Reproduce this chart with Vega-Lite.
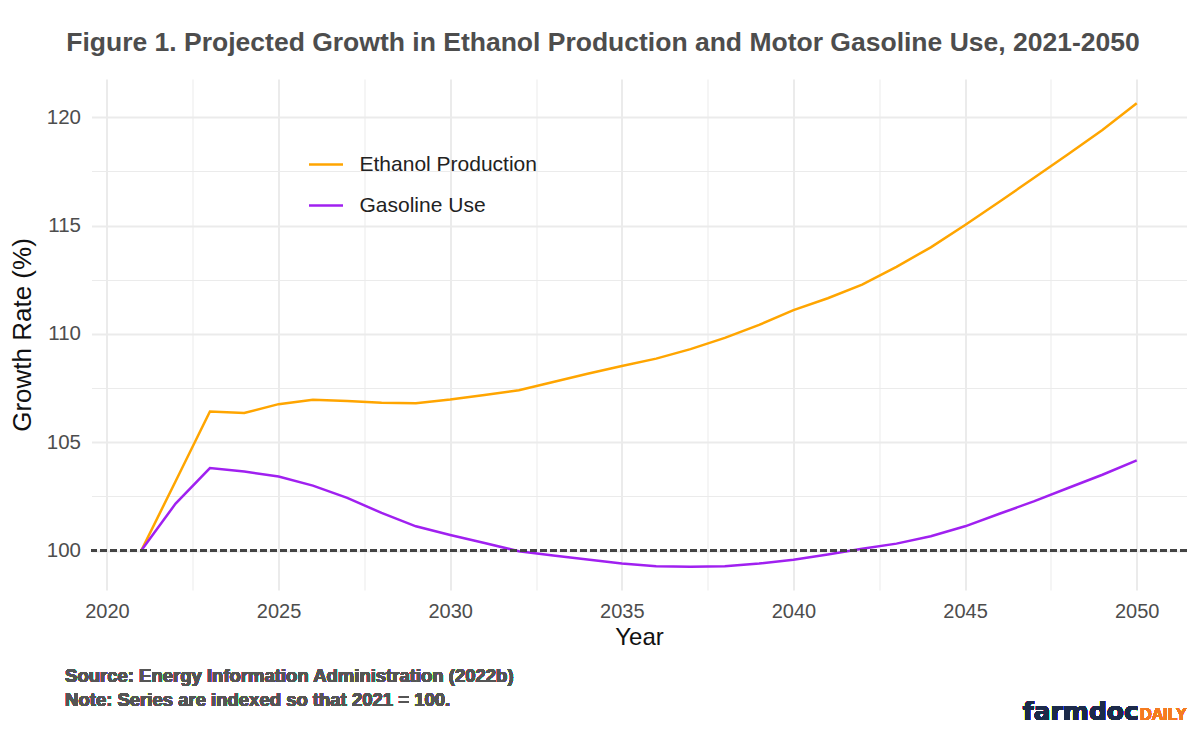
{
  "$schema": "https://vega.github.io/schema/vega-lite/v6.json",
  "width": 1095,
  "height": 511,
  "autosize": "none",
  "padding": {"left": 91.5, "top": 79, "right": 13.5, "bottom": 143},
  "background": "white",
  "config": {
    "font": "Liberation Sans",
    "view": {"stroke": null},
    "axis": {"domain": false, "ticks": false, "tickSize": 0, "gridColor": "#ebebeb", "grid": true}
  },
  "title": {
    "text": "Figure 1. Projected Growth in Ethanol Production and Motor Gasoline Use, 2021-2050",
    "fontSize": 26.5,
    "fontWeight": "bold",
    "color": "#4d4d4d",
    "anchor": "middle",
    "frame": "group",
    "dx": -36,
    "offset": 23
  },
  "data": {
    "values": [
      {"year": 2021, "series": "Ethanol Production", "value": 100},
      {"year": 2022, "series": "Ethanol Production", "value": 103.2},
      {"year": 2023, "series": "Ethanol Production", "value": 106.42},
      {"year": 2024, "series": "Ethanol Production", "value": 106.35},
      {"year": 2025, "series": "Ethanol Production", "value": 106.76},
      {"year": 2026, "series": "Ethanol Production", "value": 106.96},
      {"year": 2027, "series": "Ethanol Production", "value": 106.91},
      {"year": 2028, "series": "Ethanol Production", "value": 106.82},
      {"year": 2029, "series": "Ethanol Production", "value": 106.8},
      {"year": 2030, "series": "Ethanol Production", "value": 106.97},
      {"year": 2031, "series": "Ethanol Production", "value": 107.18},
      {"year": 2032, "series": "Ethanol Production", "value": 107.4},
      {"year": 2033, "series": "Ethanol Production", "value": 107.78},
      {"year": 2034, "series": "Ethanol Production", "value": 108.16},
      {"year": 2035, "series": "Ethanol Production", "value": 108.52},
      {"year": 2036, "series": "Ethanol Production", "value": 108.86},
      {"year": 2037, "series": "Ethanol Production", "value": 109.3},
      {"year": 2038, "series": "Ethanol Production", "value": 109.82},
      {"year": 2039, "series": "Ethanol Production", "value": 110.42},
      {"year": 2040, "series": "Ethanol Production", "value": 111.1},
      {"year": 2041, "series": "Ethanol Production", "value": 111.65},
      {"year": 2042, "series": "Ethanol Production", "value": 112.28},
      {"year": 2043, "series": "Ethanol Production", "value": 113.1},
      {"year": 2044, "series": "Ethanol Production", "value": 114.0},
      {"year": 2045, "series": "Ethanol Production", "value": 115.03},
      {"year": 2046, "series": "Ethanol Production", "value": 116.1},
      {"year": 2047, "series": "Ethanol Production", "value": 117.2},
      {"year": 2048, "series": "Ethanol Production", "value": 118.3},
      {"year": 2049, "series": "Ethanol Production", "value": 119.42},
      {"year": 2050, "series": "Ethanol Production", "value": 120.65},
      {"year": 2021, "series": "Gasoline Use", "value": 100},
      {"year": 2022, "series": "Gasoline Use", "value": 102.17},
      {"year": 2023, "series": "Gasoline Use", "value": 103.81},
      {"year": 2024, "series": "Gasoline Use", "value": 103.65},
      {"year": 2025, "series": "Gasoline Use", "value": 103.42},
      {"year": 2026, "series": "Gasoline Use", "value": 103.0},
      {"year": 2027, "series": "Gasoline Use", "value": 102.43},
      {"year": 2028, "series": "Gasoline Use", "value": 101.74},
      {"year": 2029, "series": "Gasoline Use", "value": 101.12},
      {"year": 2030, "series": "Gasoline Use", "value": 100.72},
      {"year": 2031, "series": "Gasoline Use", "value": 100.35},
      {"year": 2032, "series": "Gasoline Use", "value": 99.97},
      {"year": 2033, "series": "Gasoline Use", "value": 99.77},
      {"year": 2034, "series": "Gasoline Use", "value": 99.59},
      {"year": 2035, "series": "Gasoline Use", "value": 99.4},
      {"year": 2036, "series": "Gasoline Use", "value": 99.28},
      {"year": 2037, "series": "Gasoline Use", "value": 99.25},
      {"year": 2038, "series": "Gasoline Use", "value": 99.28},
      {"year": 2039, "series": "Gasoline Use", "value": 99.4},
      {"year": 2040, "series": "Gasoline Use", "value": 99.58},
      {"year": 2041, "series": "Gasoline Use", "value": 99.82},
      {"year": 2042, "series": "Gasoline Use", "value": 100.08},
      {"year": 2043, "series": "Gasoline Use", "value": 100.32},
      {"year": 2044, "series": "Gasoline Use", "value": 100.66},
      {"year": 2045, "series": "Gasoline Use", "value": 101.12},
      {"year": 2046, "series": "Gasoline Use", "value": 101.7},
      {"year": 2047, "series": "Gasoline Use", "value": 102.27},
      {"year": 2048, "series": "Gasoline Use", "value": 102.89},
      {"year": 2049, "series": "Gasoline Use", "value": 103.5},
      {"year": 2050, "series": "Gasoline Use", "value": 104.16}
    ]
  },
  "layer": [
    {
      "mark": {"type": "line", "strokeWidth": 2.5},
      "encoding": {
        "x": {
          "field": "year", "type": "quantitative",
          "scale": {"domain": [2019.55, 2051.45], "nice": false, "zero": false},
          "axis": {
            "title": "Year",
            "grid": true,
            "values": [2020, 2022.5, 2025, 2027.5, 2030, 2032.5, 2035, 2037.5, 2040, 2042.5, 2045, 2047.5, 2050],
            "labelExpr": "datum.value % 5 === 0 ? format(datum.value, 'd') : ''",
            "labelFontSize": 20,
            "labelColor": "#4d4d4d",
            "labelPadding": 11,
            "titleFontSize": 24,
            "titleFontWeight": "normal",
            "titleColor": "#111111",
            "titlePadding": 4,
            "gridWidth": {"condition": {"test": "datum.value % 5 !== 0", "value": 1}, "value": 2}
          }
        },
        "y": {
          "field": "value", "type": "quantitative",
          "scale": {"domain": [98.18, 121.77], "nice": false, "zero": false},
          "axis": {
            "title": "Growth Rate (%)",
            "grid": true,
            "values": [100, 102.5, 105, 107.5, 110, 112.5, 115, 117.5, 120],
            "labelExpr": "datum.value % 5 === 0 ? format(datum.value, 'd') : ''",
            "labelFontSize": 20.5,
            "labelColor": "#4d4d4d",
            "labelPadding": 11,
            "titleFontSize": 26,
            "titleFontWeight": "normal",
            "titleColor": "#111111",
            "titlePadding": 11,
            "gridWidth": {"condition": {"test": "datum.value % 5 !== 0", "value": 1}, "value": 2}
          }
        },
        "color": {
          "field": "series", "type": "nominal",
          "scale": {"domain": ["Ethanol Production", "Gasoline Use"], "range": ["#FFA500", "#A020F0"]},
          "legend": {
            "title": null,
            "orient": "none",
            "legendX": 216,
            "legendY": 67,
            "symbolType": "stroke",
            "symbolSize": 1156,
            "symbolStrokeWidth": 2.5,
            "labelFontSize": 21,
            "labelColor": "#222222",
            "labelOffset": 15,
            "labelLimit": 0,
            "rowPadding": 12,
            "padding": 0
          }
        }
      }
    },
    {
      "mark": {"type": "rule", "strokeDash": [6, 4], "color": "#444444", "strokeWidth": 1.5},
      "encoding": {
        "y": {"datum": 100, "type": "quantitative"}
      }
    },
    {
      "mark": {"type": "text", "text": "Source: Energy Information Administration (2022b)", "align": "left", "baseline": "middle", "fontSize": 18.5, "fontWeight": "bold", "color": "#555555"},
      "encoding": {"x": {"datum": 2018.78, "type": "quantitative"}, "y": {"datum": 94.19, "type": "quantitative"}}
    },
    {
      "mark": {"type": "text", "text": "Note: Series are indexed so that 2021 = 100.", "align": "left", "baseline": "middle", "fontSize": 18.5, "fontWeight": "bold", "color": "#555555"},
      "encoding": {"x": {"datum": 2018.78, "type": "quantitative"}, "y": {"datum": 93.12, "type": "quantitative"}}
    },
    {
      "mark": {"type": "text", "text": "farmdoc", "align": "right", "baseline": "alphabetic", "fontSize": 25, "font": "DejaVu Sans", "fontWeight": "bold", "color": "#1c2a4a"},
      "encoding": {"x": {"datum": 2050.06, "type": "quantitative"}, "y": {"datum": 92.2, "type": "quantitative"}}
    },
    {
      "mark": {"type": "text", "text": "DAILY", "align": "left", "baseline": "alphabetic", "fontSize": 16, "font": "Liberation Sans", "fontWeight": "bold", "color": "#F47B20"},
      "encoding": {"x": {"datum": 2050.1, "type": "quantitative"}, "y": {"datum": 92.2, "type": "quantitative"}}
    }
  ]
}
